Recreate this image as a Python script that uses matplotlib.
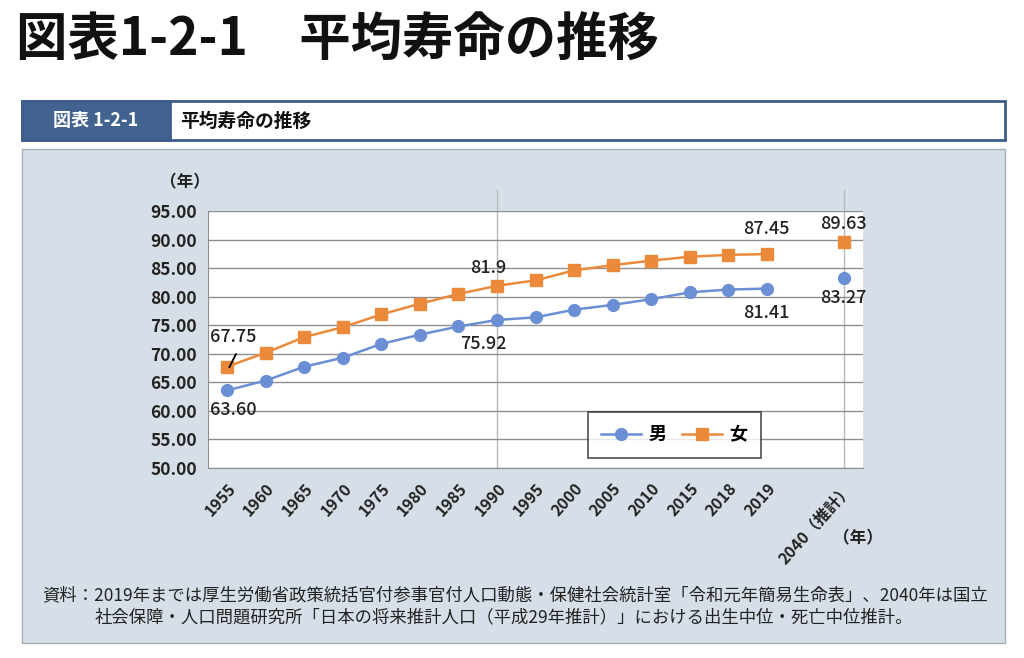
import matplotlib.pyplot as plt
from matplotlib.patches import Rectangle

plt.rcParams['font.family'] = ['Noto Sans CJK JP', 'DejaVu Sans']

# データ（2040年は推計値、2019年との間は空ける）
years = ['1955', '1960', '1965', '1970', '1975', '1980', '1985', '1990',
         '1995', '2000', '2005', '2010', '2015', '2018', '2019', '', '2040（推計）']
male = [63.60, 65.32, 67.74, 69.31, 71.73, 73.35, 74.78, 75.92,
        76.38, 77.72, 78.56, 79.55, 80.75, 81.25, 81.41]
female = [67.75, 70.19, 72.92, 74.66, 76.89, 78.76, 80.48, 81.90,
          82.85, 84.60, 85.52, 86.30, 86.99, 87.32, 87.45]
male_2040 = 83.27
female_2040 = 89.63

blue = '#6a8fd4'
orange = '#ea8a3a'
panel = '#d6dfe7'
dark = '#222222'

W, H = 1024, 658
fig = plt.figure(figsize=(W / 100, H / 100), dpi=100)
fig.patch.set_facecolor('white')

# 背景用のaxes（ピクセル座標）
bg = fig.add_axes([0, 0, 1, 1], zorder=0)
bg.set_xlim(0, W)
bg.set_ylim(H, 0)
bg.axis('off')

bg.text(16, 40, '図表1-2-1　平均寿命の推移', fontsize=37, fontweight='bold',
        color='#111111', va='center', ha='left')

# 見出しバー
bg.add_patch(Rectangle((22, 101), 983, 39, facecolor='white', edgecolor='#3d5d8c', lw=2))
bg.add_patch(Rectangle((22, 101), 148, 39, facecolor='#42628f', edgecolor='#3d5d8c', lw=2))
bg.text(96, 121, '図表 1-2-1', fontsize=13, fontweight='bold', color='white',
        va='center', ha='center')
bg.text(180, 121, '平均寿命の推移', fontsize=13.5, fontweight='bold', color='#111111',
        va='center', ha='left')

# グラフ背景パネル
bg.add_patch(Rectangle((22, 149), 983, 494, facecolor=panel, edgecolor='#a8aeb4', lw=1))

bg.text(185, 182, '（年）', fontsize=12, fontweight='bold', color=dark, va='center', ha='center')
bg.text(858, 538, '（年）', fontsize=12, fontweight='bold', color=dark, va='center', ha='center')

bg.text(42, 595, '資料：2019年までは厚生労働省政策統括官付参事官付人口動態・保健社会統計室「令和元年簡易生命表」、2040年は国立',
        fontsize=12.5, color=dark, va='center', ha='left')
bg.text(95, 617, '社会保障・人口問題研究所「日本の将来推計人口（平成29年推計）」における出生中位・死亡中位推計。',
        fontsize=12.5, color=dark, va='center', ha='left')

# メインのグラフ
ax = fig.add_axes([208 / W, 1 - 468 / H, (863 - 208) / W, (468 - 211) / H], zorder=1)
ax.set_facecolor('white')

x = list(range(len(male)))
x40 = len(years) - 1

ax.set_xlim(-0.5, len(years) - 0.5)
ax.set_ylim(50, 95)
ax.set_yticks(range(50, 96, 5))
ax.set_yticklabels([f'{v:.2f}' for v in range(50, 96, 5)], fontsize=12.5,
                   fontweight='bold', color=dark)
ax.yaxis.grid(True, color='#8f8f8f', lw=1)
ax.set_axisbelow(True)

ax.set_xticks(range(len(years)))
ax.set_xticklabels(years, rotation=48, ha='right', rotation_mode='anchor',
                   fontsize=11.5, fontweight='bold', color=dark)
ax.tick_params(axis='x', length=0, pad=9)
ax.tick_params(axis='y', length=0, pad=8)

for s in ['top', 'right']:
    ax.spines[s].set_visible(False)
for s in ['left', 'bottom']:
    ax.spines[s].set_color('#8f8f8f')

# 区切りの縦線（枠の上まで伸びる）
for xv in [7, x40]:
    ax.axvline(xv, ymin=0, ymax=1.08, color='#b8b8b8', lw=1, clip_on=False, zorder=0.5)

ax.plot(x, male, color=blue, lw=1.8, marker='o', ms=8.5, label='男', zorder=3)
ax.plot(x, female, color=orange, lw=1.8, marker='s', ms=8.5, label='女', zorder=3)
ax.plot([x40], [male_2040], color=blue, marker='o', ms=8.5, ls='none', zorder=3)
ax.plot([x40], [female_2040], color=orange, marker='s', ms=8.5, ls='none', zorder=3)

# 数値ラベル
lab = dict(fontsize=13, fontweight='medium', color=dark, ha='center', va='center', zorder=4)
ax.text(0.15, 72.9, f'{female[0]:.2f}', **lab)
ax.annotate('', xy=(0.02, 67.2), xytext=(0.26, 70.4),
            arrowprops=dict(arrowstyle='-', color='black', lw=1.3))
ax.text(0.16, 60.2, f'{male[0]:.2f}', **lab)
ax.text(6.77, 85.0, f'{female[7]:.1f}', **lab)
ax.text(6.65, 71.7, f'{male[7]:.2f}', **lab)
ax.text(14.0, 91.85, f'{female[-1]:.2f}', **lab)
ax.text(14.0, 77.1, f'{male[-1]:.2f}', **lab)
ax.text(x40, 92.7, f'{female_2040:.2f}', **lab)
ax.text(x40, 79.8, f'{male_2040:.2f}', **lab)

leg = ax.legend(loc='lower right', bbox_to_anchor=(0.844, 0.039), borderaxespad=0,
                ncol=2, frameon=True, fancybox=False, handlelength=2.2,
                handletextpad=0.4, columnspacing=0.9, borderpad=0.75,
                prop={'weight': 'bold', 'size': 13})
leg.get_frame().set_edgecolor('#222222')
leg.get_frame().set_linewidth(1.2)

fig.savefig('out.png', dpi=100)
